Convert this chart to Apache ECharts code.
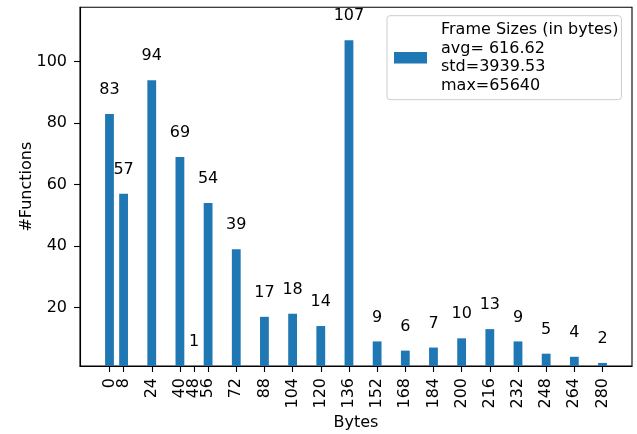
<!DOCTYPE html>
<html>
<head>
<meta charset="utf-8">
<script src="https://cdn.jsdelivr.net/npm/echarts@6/dist/echarts.min.js"></script>
<style>
  html, body { margin: 0; padding: 0; background: #fff; }
  #chart { width: 637px; height: 434px; }
</style>
</head>
<body>
<div id="chart"></div>
<script>
// Frame size buckets (bytes) and how many functions fall in each
const frameSizes = [0, 8, 24, 40, 48, 56, 72, 88, 104, 120, 136, 152, 168, 184, 200, 216, 232, 248, 264, 280];
const functionCounts = [83, 57, 94, 69, 1, 54, 39, 17, 18, 14, 107, 9, 6, 7, 10, 13, 9, 5, 4, 2];
const xTicks = frameSizes;
const yTicks = [20, 40, 60, 80, 100];

// Summary statistics shown in the legend
const seriesName = 'Frame Sizes (in bytes)';
const statAvg = '616.62';
const statStd = '3939.53';
const statMax = '65640';

const FONT = 'DejaVu Sans';
const BAR_UNITS = 5;           // bar width in data units
const xMin = -16.75, xMax = 296.75;
const yMin = 1, yMax = 117.7;

const chart = echarts.init(document.getElementById('chart'), null, { renderer: 'canvas' });

const gridLeft = 80, gridRight = 5, gridTop = 7.3, gridBottom = 68;
const plotWidth = 637 - gridLeft - gridRight;
const barPx = BAR_UNITS * plotWidth / (xMax - xMin);

const axisLineStyle = { color: '#000', width: 1.1 };
const tickLabelStyle = { fontFamily: FONT, fontSize: 16, color: '#000' };

// The first tick (0) sits so close to the next one (8) that the axis would
// drop one of them; it is drawn on a second, line-less bottom axis instead.
function xTickAxis(values, withLine) {
  return {
    type: 'value',
    min: xMin, max: xMax,
    position: 'bottom',
    name: withLine ? 'Bytes' : '',
    nameLocation: 'middle',
    nameGap: 49,
    nameMoveOverlap: false,
    nameTextStyle: { fontFamily: FONT, fontSize: 16, color: '#000' },
    axisLine: { show: withLine, onZero: false, lineStyle: axisLineStyle },
    axisTick: { show: true, length: 6, lineStyle: axisLineStyle, customValues: values },
    axisLabel: Object.assign({
      show: true, rotate: 90, margin: 12,
      customValues: values,
      hideOverlap: false,
      showMinLabel: true, showMaxLabel: true
    }, tickLabelStyle),
    splitLine: { show: false }
  };
}

chart.setOption({
  animation: false,
  textStyle: { fontFamily: FONT },
  grid: {
    left: gridLeft, right: gridRight, top: gridTop, bottom: gridBottom,
    show: true, borderColor: '#000', borderWidth: 1.1, backgroundColor: 'transparent',
    containLabel: false, outerBoundsMode: 'none'
  },
  legend: {
    show: true,
    data: [seriesName],
    left: 387, top: 15.7,
    orient: 'vertical',
    padding: [5, 3, 5, 7],
    itemWidth: 33, itemHeight: 11.6,
    icon: 'rect',
    borderColor: '#cccccc', borderWidth: 1, borderRadius: 3,
    backgroundColor: 'rgba(255,255,255,0.8)',
    selectedMode: false,
    formatter: name => [name, 'avg= ' + statAvg, 'std=' + statStd, 'max=' + statMax].join('\n'),
    textStyle: { fontFamily: FONT, fontSize: 16, color: '#000', lineHeight: 18.5, padding: [0, 0, 0, 9] }
  },
  xAxis: [
    xTickAxis(xTicks.slice(1), true),
    xTickAxis(xTicks.slice(0, 1), false)
  ],
  yAxis: {
    type: 'value',
    min: yMin, max: yMax,
    name: '#Functions',
    nameLocation: 'middle',
    nameGap: 45,
    nameRotate: 90,
    nameMoveOverlap: false,
    nameTextStyle: { fontFamily: FONT, fontSize: 16, color: '#000' },
    axisLine: { show: true, onZero: false, lineStyle: axisLineStyle },
    axisTick: { show: true, length: 6, lineStyle: axisLineStyle, customValues: yTicks },
    axisLabel: Object.assign({
      show: true, margin: 13,
      hideOverlap: false,
      customValues: yTicks
    }, tickLabelStyle),
    splitLine: { show: false }
  },
  series: [{
    name: seriesName,
    type: 'bar',
    xAxisIndex: 0,
    barWidth: barPx,
    clip: true,
    itemStyle: { color: '#1f77b4' },
    label: {
      show: true, position: 'top', distance: 16,
      fontFamily: FONT, fontSize: 16, color: '#000',
      formatter: p => String(p.value[1])
    },
    labelLayout: { hideOverlap: false },
    data: frameSizes.map((s, i) => [s, functionCounts[i]])
  }]
});
</script>
</body>
</html>
